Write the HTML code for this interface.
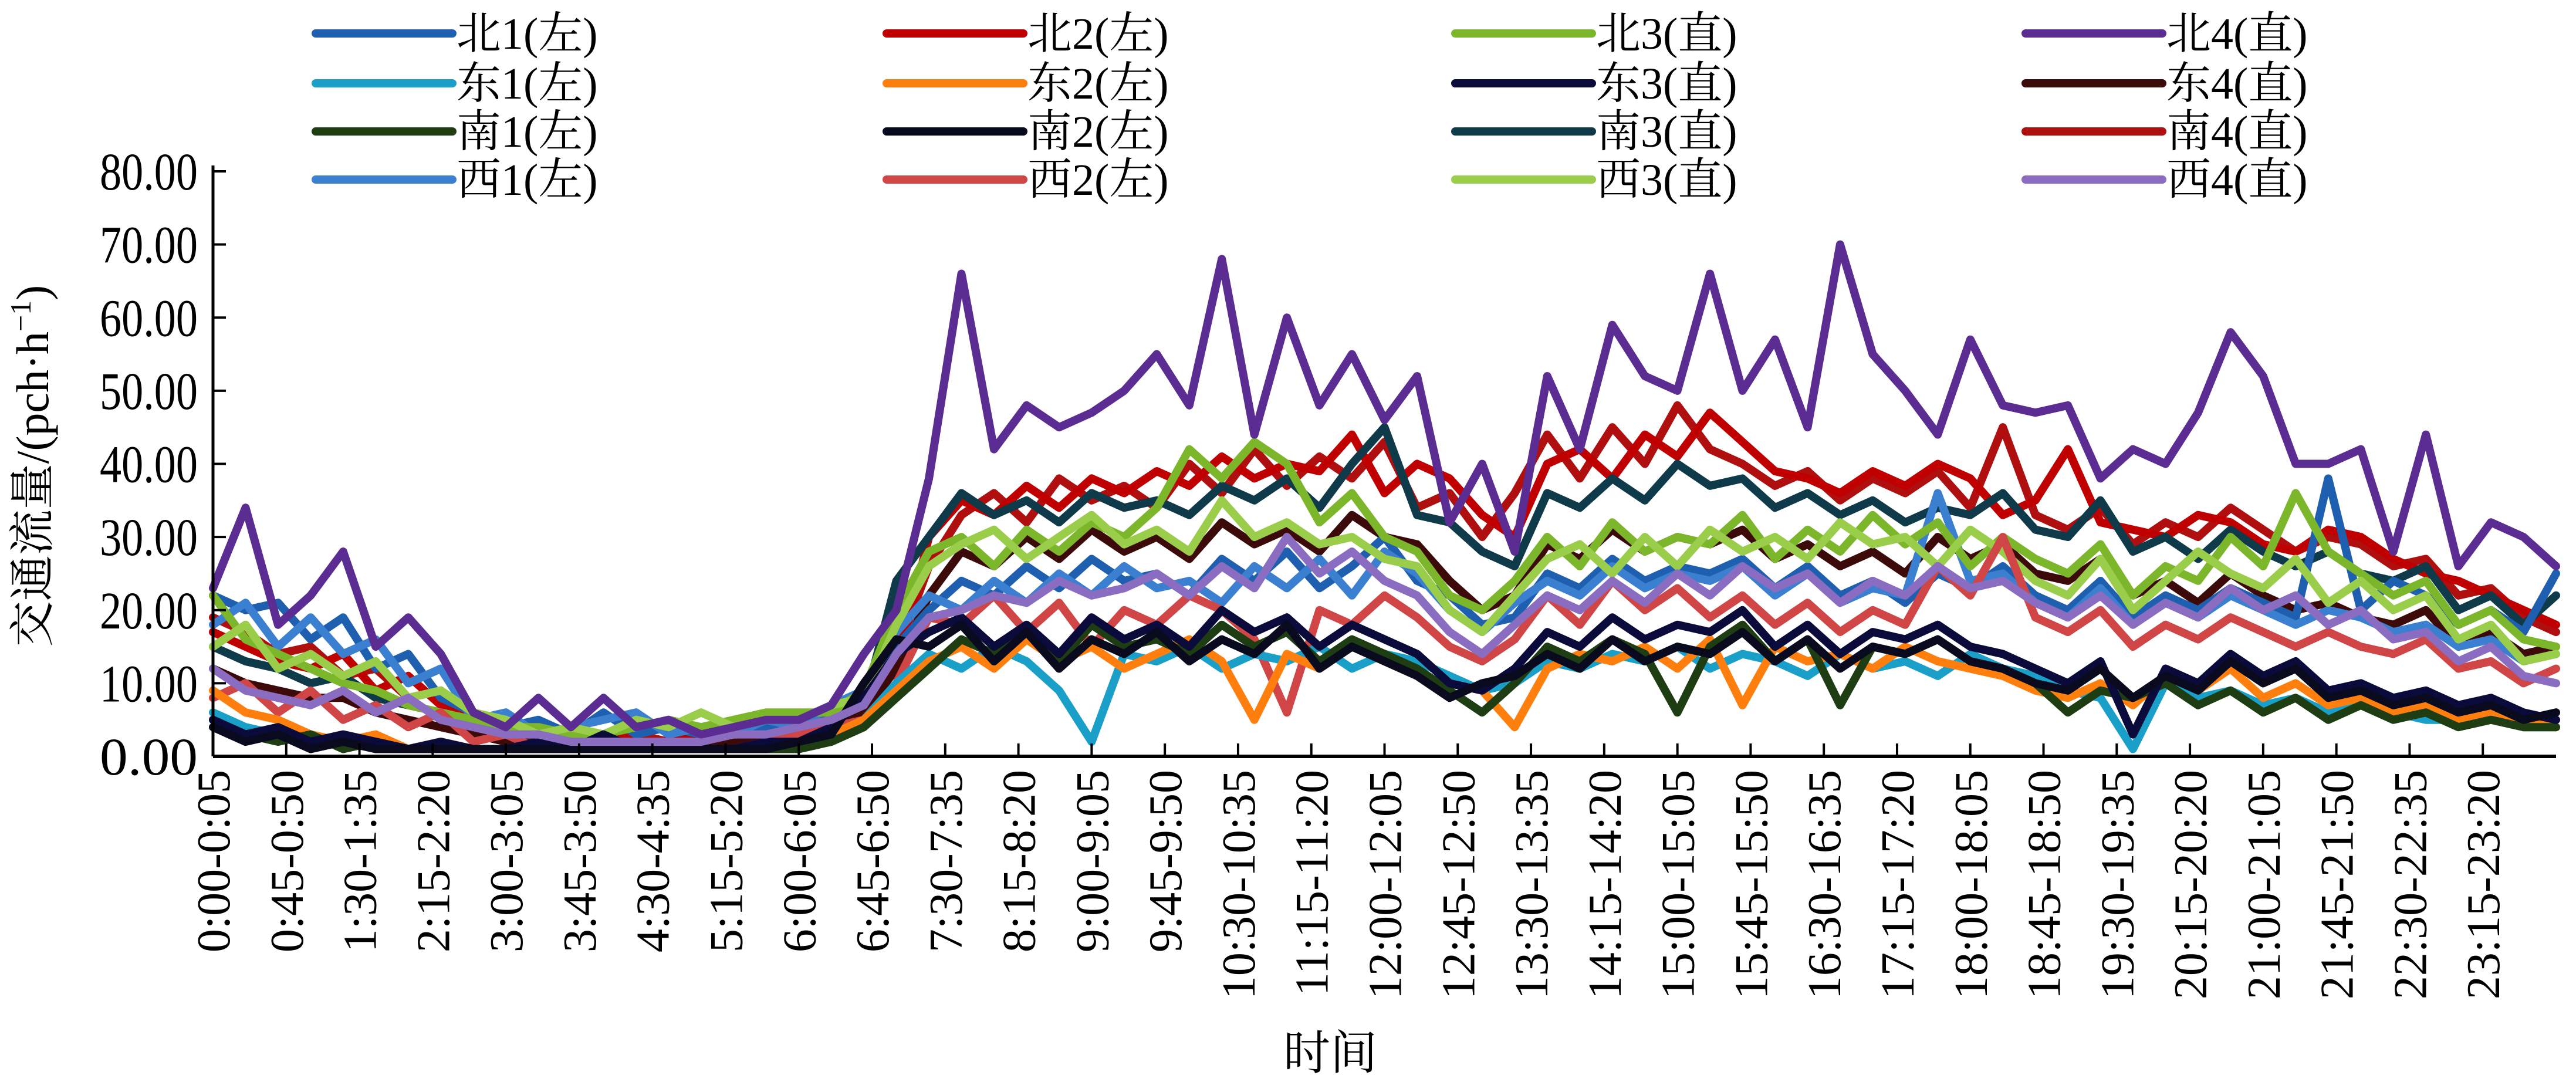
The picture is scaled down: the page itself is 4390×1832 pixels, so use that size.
<!DOCTYPE html>
<html><head><meta charset="utf-8"><style>
html,body{margin:0;padding:0;background:#fff;}
svg{display:block;}
text{font-family:"Liberation Serif","Noto Serif CJK SC",serif;fill:#000;}
</style></head><body>
<svg id="chart" width="4390" height="1832" viewBox="0 0 4390 1832" xmlns="http://www.w3.org/2000/svg">
<g id="legend"></g>
<g id="series"></g>
<g id="axes"></g>
<text transform="translate(82,794) rotate(-90)" text-anchor="middle" font-size="78">交通流量/(pch·h<tspan dy="-30" font-size="50">−1</tspan><tspan dy="30">)</tspan></text>
<text x="2267" y="1822" text-anchor="middle" font-size="80">时间</text>
</svg>
<script>
const seriesNames=["南4(直)","北2(左)","南3(直)","东4(直)","北1(左)","西1(左)","北3(直)","西3(直)","西2(左)","东1(左)","东2(左)","南1(左)","东3(直)","南2(左)","西4(直)","北4(直)"];
const legendOrder=["北1(左)","北2(左)","北3(直)","北4(直)","东1(左)","东2(左)","东3(直)","东4(直)","南1(左)","南2(左)","南3(直)","南4(直)","西1(左)","西2(左)","西3(直)","西4(直)"];
const yTicks=[0,10,20,30,40,50,60,70,80];
const yTickLabels=["0.00","10.00","20.00","30.00","40.00","50.00","60.00","70.00","80.00"];
const xTickLabels=["0:00-0:05","0:45-0:50","1:30-1:35","2:15-2:20","3:00-3:05","3:45-3:50","4:30-4:35","5:15-5:20","6:00-6:05","6:45-6:50","7:30-7:35","8:15-8:20","9:00-9:05","9:45-9:50","10:30-10:35","11:15-11:20","12:00-12:05","12:45-12:50","13:30-13:35","14:15-14:20","15:00-15:05","15:45-15:50","16:30-16:35","17:15-17:20","18:00-18:05","18:45-18:50","19:30-19:35","20:15-20:20","21:00-21:05","21:45-21:50","22:30-22:35","23:15-23:20"];
const s_N4=[23,34,18,22,28,15,19,14,6,4,8,4,8,4,5,3,4,5,5,7,14,20,38,66,42,48,45,47,50,55,48,68,44,60,48,55,46,52,32,40,28,52,42,59,52,50,66,50,57,45,70,55,50,44,57,48,47,48,38,42,40,47,58,52,40,40,42,28,44,26,32,30,26];
const s_N2=[17,15,13,12,14,9,11,7,5,3,4,2,3,2,2,3,2,4,4,5,7,12,30,35,33,37,34,38,36,39,37,41,38,40,39,44,36,40,38,33,30,40,42,38,44,41,47,43,39,38,36,39,37,40,38,33,35,42,32,31,30,33,32,29,28,31,30,27,25,24,22,20,18];
const s_S4=[19,17,14,15,11,12,8,9,4,4,3,3,2,3,2,2,3,3,5,4,8,14,26,33,36,32,38,35,37,34,40,36,42,37,41,38,43,34,36,30,36,44,38,45,40,48,42,40,37,39,35,38,36,39,34,45,33,31,34,29,32,30,34,31,28,30,29,26,27,22,23,19,17];
const s_S3=[15,13,12,10,11,8,7,6,4,3,3,2,2,2,2,2,2,3,4,5,7,24,30,36,33,35,32,36,34,35,33,37,35,38,34,40,45,33,32,28,26,36,34,38,35,40,37,38,34,36,33,35,32,34,33,36,31,30,35,28,30,27,31,28,26,28,25,24,26,20,22,18,22];
const s_E4=[12,10,9,8,8,6,5,4,3,2,2,2,2,2,2,2,2,3,3,4,6,12,22,28,26,30,27,31,28,30,27,32,29,31,28,33,30,29,24,20,22,29,27,31,28,30,29,31,27,29,26,28,25,30,27,29,25,24,27,22,24,21,25,22,20,21,19,18,20,15,17,14,15];
const s_N1=[22,20,21,16,19,12,14,8,6,4,5,3,6,3,4,3,4,4,5,6,8,15,20,24,22,26,23,27,24,25,22,27,24,28,23,26,30,24,22,18,19,25,23,27,24,26,25,27,23,26,22,24,21,25,23,26,22,20,24,19,22,20,23,21,19,38,20,24,22,18,20,17,25];
const s_W1=[18,21,15,19,14,16,10,12,5,6,3,4,5,6,3,4,3,5,4,7,9,17,22,20,24,21,25,22,26,23,24,21,26,23,27,22,28,25,20,17,21,24,22,26,23,25,24,26,22,25,21,23,22,36,24,25,21,19,23,18,21,19,22,20,18,20,19,17,18,15,16,13,14];
const s_N3=[22,16,14,12,10,9,7,6,5,4,4,3,3,4,5,4,5,6,6,6,9,20,28,30,26,31,28,32,30,34,42,38,43,40,32,36,30,28,22,20,24,30,26,32,28,30,29,33,27,31,28,33,29,32,26,30,27,25,29,22,26,24,30,26,36,28,25,22,24,18,20,16,15];
const s_W3=[15,18,12,14,11,13,8,9,6,5,3,4,3,5,4,6,4,5,5,7,8,18,26,29,31,27,30,33,29,31,28,35,30,32,29,30,27,26,20,17,22,27,29,25,30,26,31,28,30,27,32,29,30,26,31,28,24,22,27,20,24,28,25,23,27,21,24,20,22,16,18,13,14];
const s_W2=[8,10,6,9,5,7,4,6,2,3,1,2,1,2,1,1,1,2,3,4,5,10,19,18,22,17,21,15,20,18,22,20,16,6,20,18,22,19,15,13,16,22,18,24,20,23,19,22,18,21,17,20,18,26,22,30,19,17,20,15,18,16,19,17,15,17,15,14,16,12,13,10,12];
const s_E1=[6,4,3,2,2,2,1,1,1,1,1,1,1,1,1,1,1,1,2,3,5,10,14,12,15,13,9,2,14,13,15,12,14,13,15,12,14,13,11,9,10,13,12,14,13,15,12,14,13,11,14,12,13,11,14,12,11,9,8,1,10,8,9,7,8,6,7,6,5,5,6,4,4];
const s_E2=[9,6,5,3,2,3,1,2,1,1,1,1,1,1,1,1,1,1,2,3,5,9,13,15,12,16,13,15,12,14,16,13,5,14,12,15,13,11,10,9,4,12,14,13,15,12,16,7,15,13,14,12,15,13,12,11,9,8,10,7,11,9,12,8,10,7,8,6,7,5,6,5,4];
const s_S1=[5,3,2,3,1,2,1,1,1,1,1,1,1,1,1,1,1,1,1,2,4,8,12,16,14,17,13,18,15,16,14,18,15,17,13,16,14,12,9,6,10,15,13,16,14,6,15,18,13,16,7,15,14,16,13,12,10,6,9,8,10,7,9,6,8,5,7,5,6,4,5,4,4];
const s_E3=[5,3,4,2,3,2,1,2,1,1,2,1,3,1,2,1,1,2,2,4,8,14,17,19,15,18,14,19,16,18,15,20,17,19,15,18,16,14,10,9,12,17,15,19,16,18,17,20,15,18,14,17,16,18,15,14,12,10,13,3,12,10,14,11,13,9,10,8,9,7,8,6,5];
const s_S2=[4,2,3,1,2,1,1,1,1,1,1,1,1,1,1,1,1,1,2,3,10,16,15,18,13,17,12,16,14,17,13,16,14,18,12,15,13,11,8,10,11,14,12,16,13,15,14,17,13,16,12,15,14,16,13,12,10,9,12,8,11,9,13,10,12,8,9,7,8,6,7,5,6];
const s_W4=[12,9,8,7,9,6,8,5,4,3,3,2,2,2,2,2,3,3,4,5,7,14,19,20,22,21,24,22,23,25,22,26,23,30,25,28,24,22,17,14,18,22,20,24,21,25,22,26,23,25,21,24,22,26,23,24,21,19,22,18,21,19,23,20,22,18,20,16,17,13,15,11,10];

const seriesData=[s_S4,s_N2,s_S3,s_E4,s_N1,s_W1,s_N3,s_W3,s_W2,s_E1,s_E2,s_S1,s_E3,s_S2,s_W4,s_N4];
const colors={"北1(左)":"#1f5fb0","北2(左)":"#c00000","北3(直)":"#7cb62a","北4(直)":"#5b2c91","东1(左)":"#1aa0c8","东2(左)":"#ff7f0e","东3(直)":"#0b0b3b","东4(直)":"#3d0a0a","南1(左)":"#1e3d12","南2(左)":"#0a0a1e","南3(直)":"#0e3a4a","南4(直)":"#b00f0f","西1(左)":"#3b7fd0","西2(左)":"#d04545","西3(直)":"#9acd4a","西4(直)":"#8a6cc0"};

const NS="http://www.w3.org/2000/svg";
const X0=363,X1=4356,Y0=1289,Y1=292,NPTS=72;
function xScale(i){return X0+(X1-X0)*i/NPTS;}
function yScale(v){return Y0-(Y0-Y1)*v/80;}
function mk(tag,attrs,parent){const e=document.createElementNS(NS,tag);for(const k in attrs)e.setAttribute(k,attrs[k]);parent.appendChild(e);return e;}

const sg=document.getElementById('series');
seriesData.forEach((arr,si)=>{
  const d=arr.map((v,i)=>(i?'L':'M')+xScale(i).toFixed(1)+','+yScale(v).toFixed(1)).join('');
  const p=mk('path',{d:d,fill:'none',stroke:colors[seriesNames[si]],'stroke-width':14,'stroke-linejoin':'round','stroke-linecap':'round'},sg);
  
  
});

const ax=document.getElementById('axes');
const yl=mk('line',{x1:X0,y1:Y1-10,x2:X0,y2:Y0,stroke:'#000','stroke-width':5},ax);


const xl=mk('line',{x1:X0,y1:Y0,x2:X1,y2:Y0,stroke:'#000','stroke-width':6},ax);


yTicks.forEach((v,i)=>{
  const y=yScale(v);
  mk('line',{x1:X0,y1:y,x2:X0+22,y2:y,stroke:'#000','stroke-width':4},ax);
  const t=mk('text',{x:337,y:y+31,'text-anchor':'end','font-size':90,textLength:167,lengthAdjust:'spacingAndGlyphs'},ax);
  t.textContent=yTickLabels[i];
  
  
});
xTickLabels.forEach((lab,i)=>{
  const x=X0+(X1-X0)*(9*i)/288;
  if(i>0) mk('line',{x1:x,y1:Y0,x2:x,y2:Y0-22,stroke:'#000','stroke-width':4},ax);
  const t=mk('text',{transform:'translate('+(x+28)+',1312) rotate(-90)','text-anchor':'end','font-size':80},ax);
  t.textContent=lab;
  
  
});

const lg=document.getElementById('legend');
const colX=[538,1511,2480,3452],rowY=[57,142,224,306];
legendOrder.forEach((name,k)=>{
  const c=k%4,r=Math.floor(k/4);
  const g=mk('g',{},lg);
  
  
  mk('line',{x1:colX[c],y1:rowY[r],x2:colX[c]+233,y2:rowY[r],stroke:colors[name],'stroke-width':14,'stroke-linecap':'round'},g);
  const t=mk('text',{x:colX[c]+240,y:rowY[r]+26,'font-size':76},g);
  t.textContent=name;
});
</script>
</body></html>
